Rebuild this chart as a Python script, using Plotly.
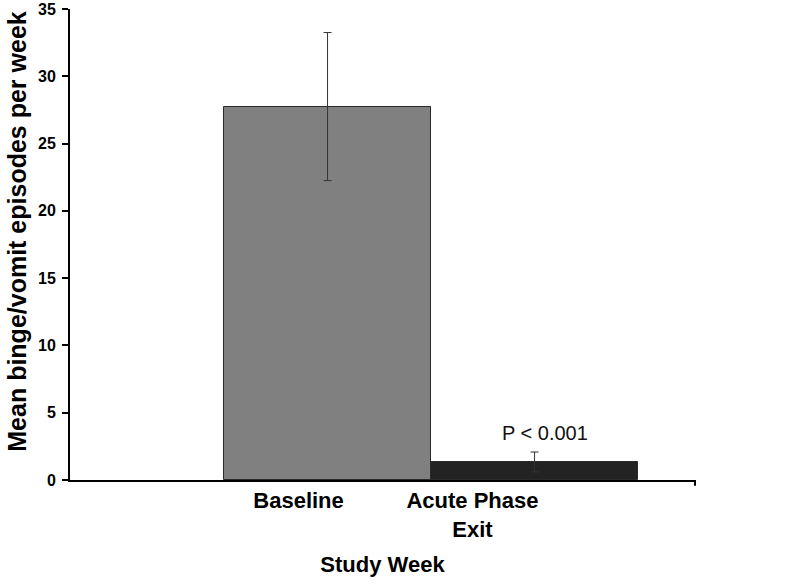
import plotly.graph_objects as go

categories = ["Baseline", "Acute Phase<br>Exit"]
means = [27.75, 1.34]
errors = [5.5, 0.74]
bar_colors = ["#808080", "#232323"]
y_ticks = [0, 5, 10, 15, 20, 25, 30, 35]
p_label = "P < 0.001"
y_title = "Mean binge/vomit episodes per week"
x_title = "Study Week"

FONT = "Arial, Liberation Sans, sans-serif"

x_pos = list(range(len(categories)))

fig = go.Figure()
fig.add_trace(go.Bar(
    x=x_pos, y=means, width=1,
    marker=dict(color=bar_colors, line=dict(color="#2a2a2a", width=1)),
    error_y=dict(type="data", array=errors, visible=True, color="#333333",
                 thickness=1, width=4),
    showlegend=False,
))

fig.add_annotation(x=x_pos[1] + 0.05, y=means[1] + errors[1] + 1.4, text=p_label,
                   showarrow=False, font=dict(family=FONT, size=20, color="#111"))

# y axis title as rotated annotation
fig.add_annotation(x=-0.085, y=0.529, xref="paper", yref="paper", textangle=-90,
                   text="<b>" + y_title + "</b>", showarrow=False,
                   xanchor="center", yanchor="middle",
                   font=dict(family=FONT, size=25, color="black"))

# right end tick on the x axis
fig.add_shape(type="line", xref="paper", yref="paper", x0=1, x1=1, y0=0, y1=-0.012,
              line=dict(color="black", width=2))

fig.update_layout(
    width=800, height=584,
    margin=dict(l=70, r=105, t=9, b=104),
    plot_bgcolor="white", paper_bgcolor="white",
    font=dict(family=FONT, color="black"),
    bargap=0,
    xaxis=dict(
        range=[-1.244, 1.775], automargin=False,
        tickmode="array", tickvals=[-0.14, 0.70], ticktext=categories,
        tickfont=dict(size=22, family=FONT, weight="bold"),
        ticks="", showline=True, linecolor="black", linewidth=2,
        showgrid=False, zeroline=False,
        title=dict(text="<b>" + x_title + "</b>", font=dict(size=22, family=FONT), standoff=16),
    ),
    yaxis=dict(
        range=[0, 35], automargin=False, tickmode="array", tickvals=y_ticks,
        tickfont=dict(size=16, family=FONT, weight="bold"),
        ticks="outside", ticklen=6, tickwidth=2, tickcolor="black",
        ticklabelstandoff=3,
        showline=True, linecolor="black", linewidth=2,
        showgrid=False, zeroline=False,
    ),
)

fig.write_html("out.html", config={"displayModeBar": False},
               post_script="document.body.style.margin='0';")
